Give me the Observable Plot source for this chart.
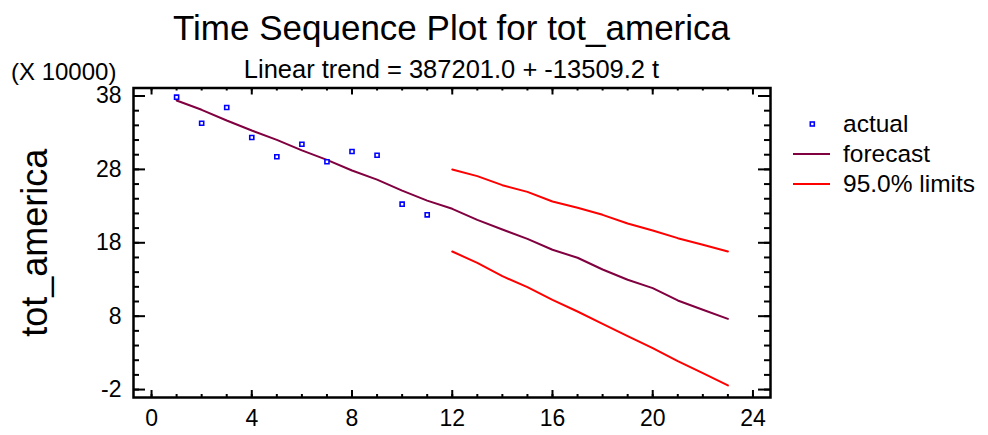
<!DOCTYPE html>
<html>
<head>
<meta charset="utf-8">
<script src="https://cdn.jsdelivr.net/npm/d3@7"></script>
<script src="https://cdn.jsdelivr.net/npm/@observablehq/plot@0.6"></script>
<style>
  body { margin: 0; background: #fff; font-family: "Liberation Sans", Arial, sans-serif; }
  #wrap { position: relative; width: 988px; height: 435px; overflow: hidden; background: #fff; }
  .t { position: absolute; line-height: 1; white-space: nowrap; color: #000; }
  #title { left: 133px; width: 637px; text-align: center; top: 10px; font-size: 35px; }
  #subtitle { left: 133px; width: 637px; text-align: center; top: 57px; font-size: 25.5px; }
  #scale { left: 11px; top: 60px; font-size: 24px; line-height: 24px; height: 24px; }
  #chart { position: absolute; left: 0; top: 86px; }
  #legend { position: absolute; left: 790px; top: 109px; font-size: 24.5px; line-height: 1; }
  .row { display: flex; align-items: center; height: 30px; }
  .row svg { width: 40px; height: 30px; margin-right: 13px; flex: none; }
</style>
</head>
<body>
<div id="wrap">
  <div class="t" id="title">Time Sequence Plot for tot_america</div>
  <div class="t" id="subtitle">Linear trend = 387201.0 + -13509.2 t</div>
  <div class="t" id="scale">(X 10000)</div>
  <div id="chart"></div>
  <div id="legend"></div>
</div>
<script>
// Observed totals (units of 10000), periods 1-11
const actualT = [1, 2, 3, 4, 5, 6, 7, 8, 9, 10, 11];
const actualV = [37.84, 34.29, 36.43, 32.35, 29.72, 31.43, 29.04, 30.44, 29.93, 23.26, 21.81];

// Fitted trend and forecast, periods 1-23
const forecastT = [1, 2, 3, 4, 5, 6, 7, 8, 9, 10, 11, 12, 13, 14, 15, 16, 17, 18, 19, 20, 21, 22, 23];
const forecastV = [37.39, 36.12, 34.66, 33.3, 32.03, 30.6, 29.3, 27.85, 26.6, 25.1, 23.75,
                   22.63, 21.13, 19.81, 18.54, 17.05, 15.96, 14.36, 12.96, 11.82, 10.14, 8.87, 7.64];

// 95% prediction limits, periods 12-23
const limitT = [12, 13, 14, 15, 16, 17, 18, 19, 20, 21, 22, 23];
const upperV = [27.99, 27.08, 25.85, 24.94, 23.63, 22.77, 21.81, 20.63, 19.68, 18.63, 17.73, 16.81];
const lowerV = [16.81, 15.27, 13.45, 11.95, 10.23, 8.64, 6.96, 5.27, 3.64, 1.87, 0.23, -1.44];

// Axis ticks
const xMajor = [0, 4, 8, 12, 16, 20, 24];
const xMinor = [0, 1, 2, 3, 4, 5, 6, 7, 8, 9, 10, 11, 12, 13, 14, 15, 16, 17, 18, 19, 20, 21, 22, 23, 24];
const yMajor = [-2, 8, 18, 28, 38];
const yMinor = [-2, 0, 2, 4, 6, 8, 10, 12, 14, 16, 18, 20, 22, 24, 26, 28, 30, 32, 34, 36, 38];

const actual = actualT.map((t, i) => ({t, v: actualV[i]}));
const forecast = forecastT.map((t, i) => ({t, v: forecastV[i]}));
const upper = limitT.map((t, i) => ({t, v: upperV[i]}));
const lower = limitT.map((t, i) => ({t, v: lowerV[i]}));

const W = 988, H = 349;
const mL = 133, mR = 218, mT = 1.5, mB = 38;
const fw = W - mL - mR, fh = H - mT - mB;
const font = '"Liberation Sans", Arial, sans-serif';
const fmt = d => `${d}`;

const chart = Plot.plot({
  width: W, height: H,
  marginLeft: mL, marginRight: mR, marginTop: mT, marginBottom: mB,
  style: {fontFamily: font, color: "#000", background: "#fff", overflow: "visible"},
  x: {domain: [-0.72, 24.7]},
  y: {domain: [-3.08, 39.09]},
  marks: [
    Plot.axisX(xMajor, {tickSize: 0, tickPadding: 12, fontSize: 23, tickFormat: fmt, label: null}),
    Plot.axisY(yMajor, {tickSize: 0, tickPadding: 12, fontSize: 23, tickFormat: fmt, label: null}),
    Plot.axisY([], {tickSize: 0, fontSize: 36, label: "tot_america", labelAnchor: "center", labelOffset: 112, labelArrow: "none"}),
    // inward ticks on all four sides
    Plot.tickX(xMinor, {insetTop: fh - 3, strokeWidth: 2}),
    Plot.tickX(xMinor, {insetBottom: fh - 3, strokeWidth: 2}),
    Plot.tickX(xMajor, {insetTop: fh - 7, strokeWidth: 2}),
    Plot.tickX(xMajor, {insetBottom: fh - 7, strokeWidth: 2}),
    Plot.tickY(yMinor, {insetRight: fw - 6, strokeWidth: 2}),
    Plot.tickY(yMinor, {insetLeft: fw - 6, strokeWidth: 2}),
    Plot.tickY(yMajor, {insetRight: fw - 12, strokeWidth: 2}),
    Plot.tickY(yMajor, {insetLeft: fw - 12, strokeWidth: 2}),
    Plot.line(upper, {x: "t", y: "v", stroke: "#ff0000", strokeWidth: 2}),
    Plot.line(lower, {x: "t", y: "v", stroke: "#ff0000", strokeWidth: 2}),
    Plot.line(forecast, {x: "t", y: "v", stroke: "#800040", strokeWidth: 2}),
    Plot.dot(actual, {x: "t", y: "v", symbol: "square", r: 2.3, stroke: "#0000ff", strokeWidth: 1.6, fill: "#fff"}),
    Plot.frame({stroke: "#000", strokeWidth: 2.5})
  ]
});
document.getElementById("chart").append(chart);

// Legend
const legendItems = [
  {label: "actual", kind: "dot", color: "#0000ff"},
  {label: "forecast", kind: "line", color: "#800040"},
  {label: "95.0% limits", kind: "line", color: "#ff0000"}
];
const NS = "http://www.w3.org/2000/svg";
const legend = document.getElementById("legend");
for (const item of legendItems) {
  const row = document.createElement("div");
  row.className = "row";
  const sw = document.createElementNS(NS, "svg");
  if (item.kind === "dot") {
    const r = document.createElementNS(NS, "rect");
    r.setAttribute("x", 20.3); r.setAttribute("y", 13); r.setAttribute("width", 4); r.setAttribute("height", 4);
    r.setAttribute("fill", "#fff"); r.setAttribute("stroke", item.color); r.setAttribute("stroke-width", 1.6);
    sw.append(r);
  } else {
    const l = document.createElementNS(NS, "line");
    l.setAttribute("x1", 3); l.setAttribute("x2", 40); l.setAttribute("y1", 15); l.setAttribute("y2", 15);
    l.setAttribute("stroke", item.color); l.setAttribute("stroke-width", 2);
    sw.append(l);
  }
  const txt = document.createElement("span");
  txt.textContent = item.label;
  row.append(sw, txt);
  legend.append(row);
}
</script>
</body>
</html>
